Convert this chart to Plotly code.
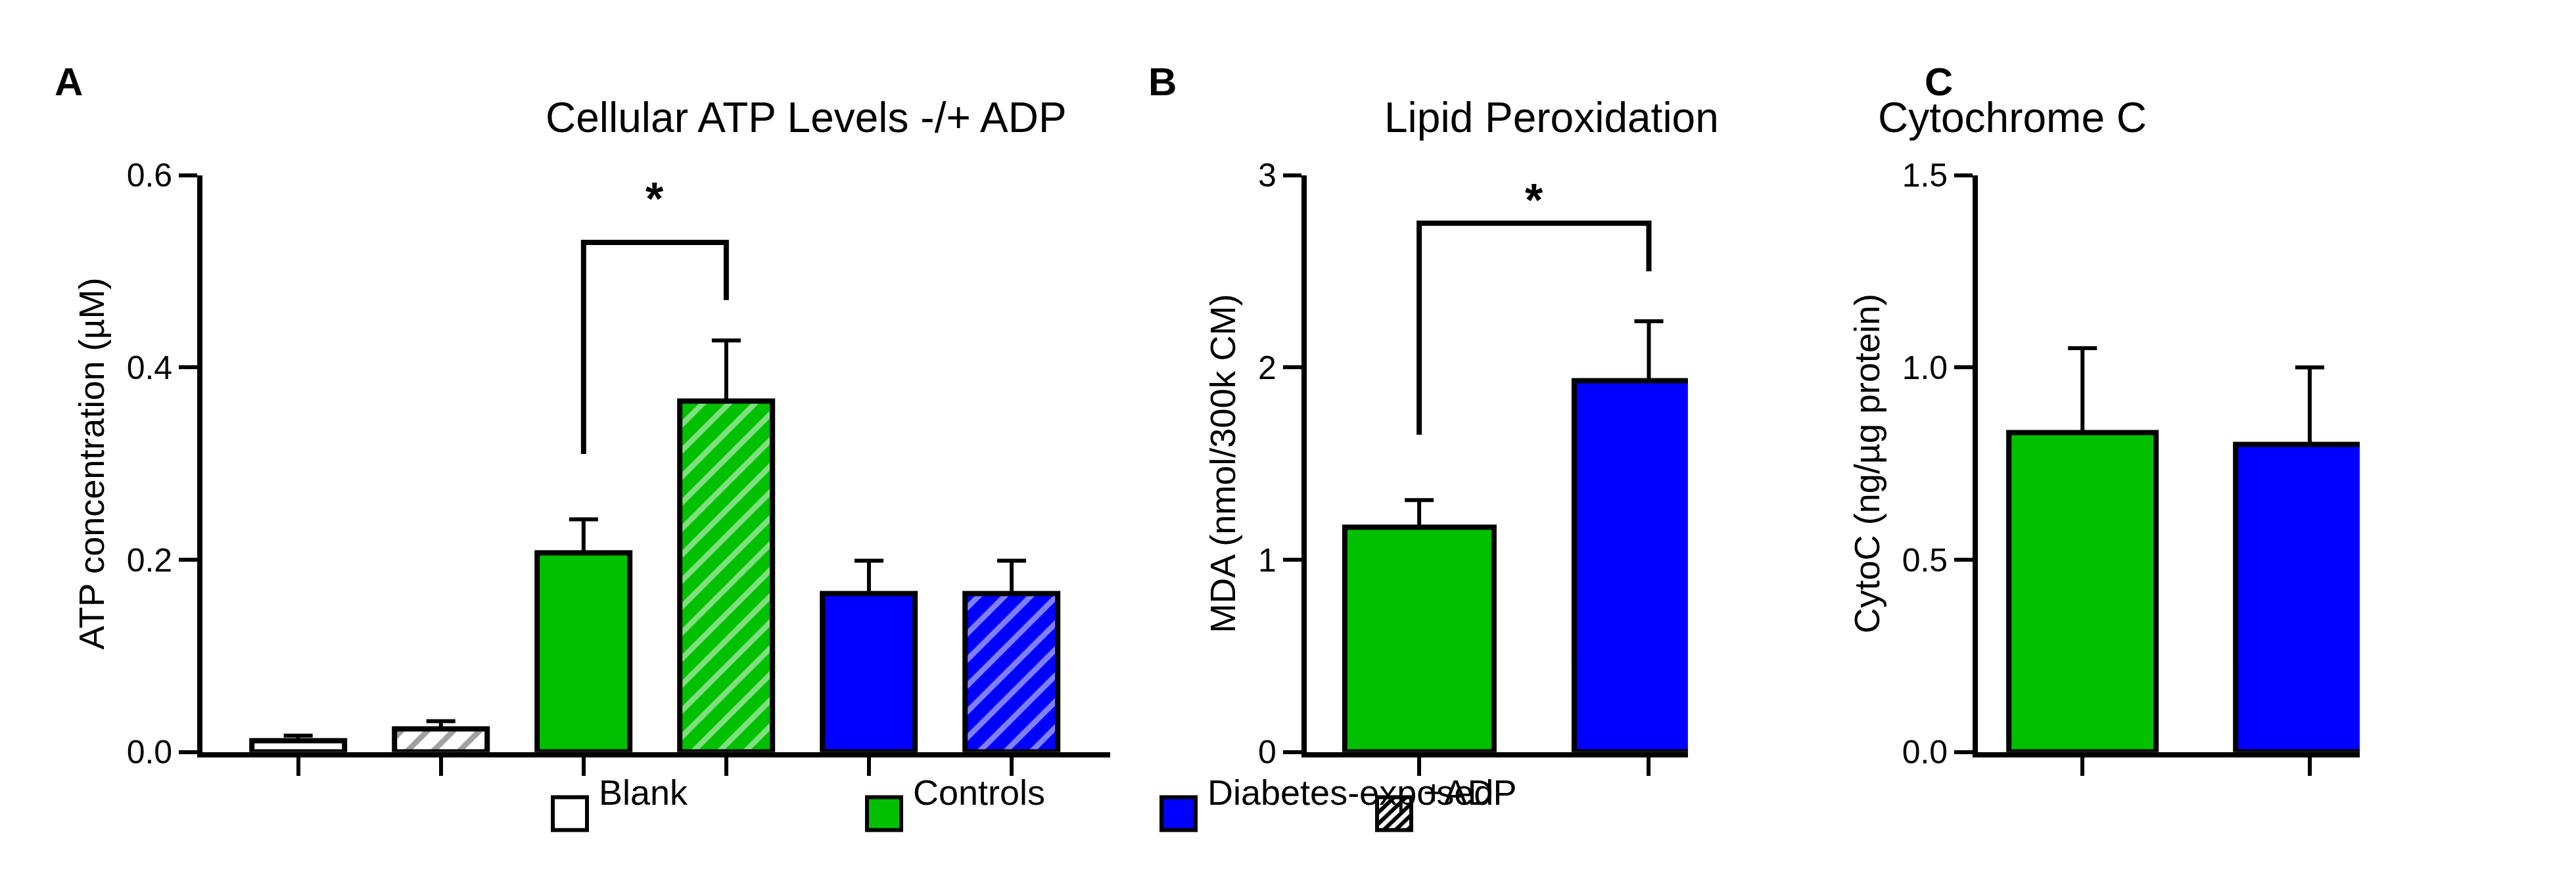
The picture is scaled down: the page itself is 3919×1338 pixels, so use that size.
import plotly.graph_objects as go

# panel A
atp_mean = [0.012, 0.024, 0.207, 0.365, 0.165, 0.165]
atp_err = [0.005, 0.008, 0.035, 0.063, 0.034, 0.034]
atp_colors = ["white", "white", "#00c000", "#00c000", "#0000ff", "#0000ff"]
atp_hatch = ["", "/", "", "/", "", "/"]
# panel B
mda_mean = [1.17, 1.93]
mda_err = [0.14, 0.31]
# panel C
cyto_mean = [0.83, 0.80]
cyto_err = [0.22, 0.20]
pair_colors = ["#00c000", "#0000ff"]

legend_labels = ["Blank", "Controls", "Diabetes-exposed", "+ADP"]
legend_colors = ["white", "#00c000", "#0000ff", "white"]

W, H = 3919, 1338
FONT = "Liberation Sans"


def bar(x, y, err, colors, hatch, xa, ya):
    return go.Bar(
        x=x, y=y, xaxis=xa, yaxis=ya, width=0.65,
        marker=dict(color=colors, line=dict(color="black", width=8),
                    pattern=dict(shape=hatch, fgcolor="black", size=28, solidity=0.3)),
        error_y=dict(type="data", array=err, arrayminus=[0] * len(err),
                     color="black", thickness=6, width=22),
        showlegend=False, hoverinfo="skip")


fig = go.Figure()
fig.add_trace(bar(list(range(6)), atp_mean, atp_err, atp_colors, atp_hatch, "x", "y"))
fig.add_trace(bar([0, 1], mda_mean, mda_err, pair_colors, ["", ""], "x2", "y2"))
fig.add_trace(bar([0, 1], cyto_mean, cyto_err, pair_colors, ["", ""], "x3", "y3"))

xcommon = dict(showline=True, linewidth=8, linecolor="black", ticks="outside", ticklen=28,
               tickwidth=6, tickcolor="black", showticklabels=False, showgrid=False,
               zeroline=False, tickmode="linear", dtick=1, tick0=0)
ycommon = dict(showline=True, linewidth=8, linecolor="black", ticks="outside", ticklen=28,
               tickwidth=6, tickcolor="black", showgrid=False, zeroline=False,
               tickfont=dict(size=50, family=FONT, color="black"),
               title_font=dict(size=54, family=FONT, color="black"), title_standoff=20)
yd = [0.1345, 0.82]
fig.update_layout(
    width=W, height=H, margin=dict(l=0, r=0, t=0, b=0),
    plot_bgcolor="white", paper_bgcolor="white", bargap=0,
    xaxis=dict(domain=[0.0766, 0.4289], range=[-0.67, 5.69], anchor="y", **xcommon),
    yaxis=dict(domain=yd, range=[0, 0.6], dtick=0.2, tickformat=".1f", anchor="x",
               title_text="ATP concentration (µM)", **ycommon),
    xaxis2=dict(domain=[0.5052, 0.6532], range=[-0.49, 1.17], anchor="y2", **xcommon),
    yaxis2=dict(domain=yd, range=[0, 3], dtick=1, anchor="x2",
                title_text="MDA (nmol/300k CM)", **ycommon),
    xaxis3=dict(domain=[0.7658, 0.9140], range=[-0.46, 1.22], anchor="y3", **xcommon),
    yaxis3=dict(domain=yd, range=[0, 1.5], dtick=0.5, tickformat=".1f", anchor="x3",
                title_text="CytoC (ng/µg protein)", **ycommon),
)

# significance brackets
for xa, ya, x0, x1, yl, yt, yr, ys in [("x", "y", 2, 3, 0.31, 0.53, 0.47, 0.575),
                                       ("x2", "y2", 0, 1, 1.65, 2.75, 2.5, 2.87)]:
    fig.add_shape(type="path", xref=xa, yref=ya,
                  path=f"M {x0} {yl} L {x0} {yt} L {x1} {yt} L {x1} {yr}",
                  line=dict(color="black", width=8))
    fig.add_annotation(x=(x0 + x1) / 2, y=ys, xref=xa, yref=ya, text="<b>*</b>",
                       showarrow=False, font=dict(size=70, family=FONT, color="black"))

# titles and panel letters
for txt, xp in [("Cellular ATP Levels -/+ ADP", 820), ("Lipid Peroxidation", 2352),
                ("Cytochrome C", 3260)]:
    fig.add_annotation(x=xp / W, y=1 - 110 / H, xref="paper", yref="paper", text=txt,
                       showarrow=False, font=dict(size=64, family=FONT, color="black"))
for txt, xp in [("A", 73), ("B", 1760), ("C", 2965)]:
    fig.add_annotation(x=xp / W, y=1 - 55 / H, xref="paper", yref="paper", text=f"<b>{txt}</b>",
                       showarrow=False, font=dict(size=60, family=FONT, color="black"))

# legend
box_x = [833, 1311, 1759, 2087]
for lab, col, bx in zip(legend_labels, legend_colors, box_x):
    if lab == "+ADP":
        # hatch lines inside the swatch
        for off in [-26, -8, 10, 28, 46]:
            xa0, xa1 = max(bx, bx + off), min(bx + 52, bx + off + 52)
            ya0 = 1282 - (xa0 - (bx + off))
            ya1 = 1282 - (xa1 - (bx + off))
            fig.add_shape(type="line", xref="paper", yref="paper",
                          x0=xa0 / W, x1=xa1 / W, y0=1 - ya0 / H, y1=1 - ya1 / H,
                          line=dict(color="black", width=6))
    fig.add_shape(type="rect", xref="paper", yref="paper",
                  x0=bx / W, x1=(bx + 52) / W, y0=1 - 1282 / H, y1=1 - 1230 / H,
                  fillcolor=col if lab != "+ADP" else "rgba(0,0,0,0)",
                  line=dict(color="black", width=6), layer="below" if lab != "+ADP" else "above")
    fig.add_annotation(x=(bx + 68) / W, y=1 - 1256 / H, xref="paper", yref="paper", text=lab,
                       xanchor="left", showarrow=False,
                       font=dict(size=54, family=FONT, color="black"))

fig.write_html("out.html")
